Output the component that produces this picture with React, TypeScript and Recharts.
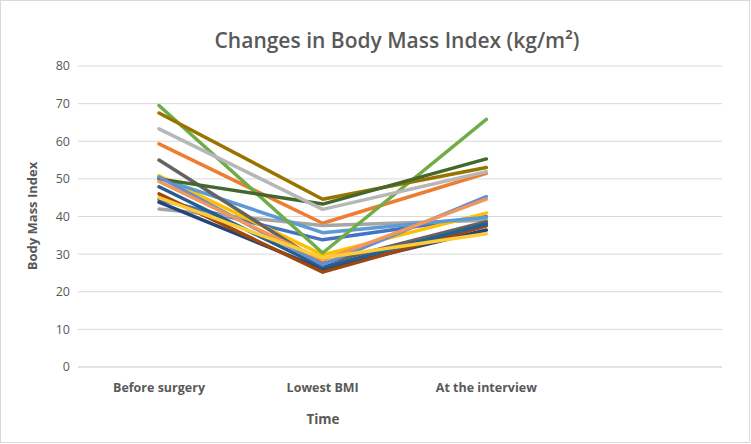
import React from "react";
import { LineChart, Line, XAxis, YAxis, CartesianGrid } from "recharts";

const categories = ["Before surgery", "Lowest BMI", "At the interview", ""];
const seriesNames = [
  "P1", "P2", "P3", "P4", "P5", "P6", "P7", "P8",
  "P9", "P10", "P11", "P12", "P13", "P14", "P15", "P16",
];
const beforeSurgery = [44.5, 59.3, 42.0, 50.8, 50.2, 69.5, 43.8, 46.0, 55.0, 67.5, 47.9, 50.0, 50.5, 49.3, 63.3, 45.0];
const lowestBmi = [33.8, 38.2, 37.6, 29.8, 35.7, 30.3, 26.0, 25.2, 27.5, 44.6, 26.5, 43.3, 27.2, 28.4, 41.9, 29.0];
const atInterview = [40.0, 51.5, 39.0, 40.9, 39.8, 65.8, 36.4, 37.5, 38.6, 53.0, 38.0, 55.3, 45.3, 44.6, 51.9, 35.4];
const yTicks = [0, 10, 20, 30, 40, 50, 60, 70, 80];

const seriesColors = [
  "#4472C4", "#ED7D31", "#A5A5A5", "#FFC000", "#5B9BD5", "#70AD47",
  "#264478", "#9E480E", "#636363", "#997300", "#255E91", "#43682B",
  "#698ED0", "#F1975A", "#B7B7B7", "#FFCD33",
];

const valueColumns = [beforeSurgery, lowestBmi, atInterview];
const data = categories.map((cat, ci) => {
  const row: Record<string, any> = { cat };
  seriesNames.forEach((name, si) => {
    const col = valueColumns[ci];
    row[name] = col ? col[si] : null;
  });
  return row;
});

const FONT = "'Open Sans', 'Liberation Sans', sans-serif";
const TXT = "#595959";

export default function App() {
  return (
    <div style={{ position: "absolute", left: 0, top: 0, width: 751, height: 444, background: "#fff" }}>
      <svg width={751} height={444} style={{ position: "absolute", left: 0, top: 0 }}>
        <rect x={0.5} y={0.5} width={749} height={442} fill="#fff" stroke="#D9D9D9" strokeWidth={1} />
      </svg>
      <div style={{ position: "absolute", left: 0, top: 0 }}>
        <LineChart
          width={751}
          height={444}
          data={data}
          margin={{ top: 66, right: 29, bottom: 47, left: 0 }}
        >
          <CartesianGrid vertical={false} stroke="#D9D9D9" strokeWidth={1} />
          <XAxis
            dataKey="cat"
            height={30}
            axisLine={{ stroke: "#D9D9D9" }}
            tickLine={false}
            interval={0}
            tickMargin={10}
            padding={{ left: 81, right: 72 }}
            tick={{ fill: TXT, fontSize: 12.5, fontFamily: FONT, fontWeight: 700 }}
          />
          <YAxis
            domain={[0, 80]}
            ticks={yTicks}
            width={78}
            axisLine={false}
            tickLine={false}
            tick={{ fill: TXT, fontSize: 12.5, fontFamily: FONT }}
          />
          {seriesNames.map((name, i) => (
            <Line
              key={name}
              type="linear"
              dataKey={name}
              stroke={seriesColors[i]}
              strokeWidth={3.5}
              strokeLinejoin="round"
              strokeLinecap="round"
              dot={false}
              activeDot={false}
              isAnimationActive={false}
            />
          ))}
          <text x={397} y={48} textAnchor="middle" fill={TXT} fontSize={21} fontWeight={600} fontFamily={FONT}>
            Changes in Body Mass Index (kg/m²)
          </text>
          <text
            x={37}
            y={216}
            transform="rotate(-90 37 216)"
            textAnchor="middle"
            fill={TXT}
            fontSize={13}
            fontWeight={700}
            fontFamily={FONT}
          >
            Body Mass Index
          </text>
          <text x={323} y={424} textAnchor="middle" fill={TXT} fontSize={13.5} fontWeight={700} fontFamily={FONT}>
            Time
          </text>
        </LineChart>
      </div>
    </div>
  );
}
